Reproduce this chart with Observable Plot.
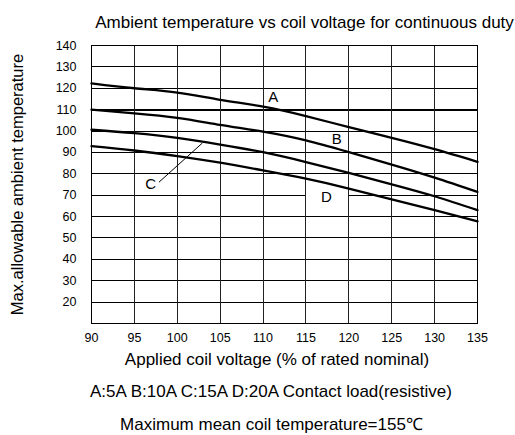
<!DOCTYPE html>
<html>
<head>
<meta charset="utf-8">
<script src="https://cdn.jsdelivr.net/npm/d3@7"></script>
<script src="https://cdn.jsdelivr.net/npm/@observablehq/plot@0.6"></script>
<style>
  html, body { margin: 0; padding: 0; background: #fff; }
  #chart svg { display: block; font-family: "Liberation Sans", Arial, sans-serif; }
</style>
</head>
<body>
<div id="chart"></div>
<script>
// Data
const voltage = [90, 95, 100, 105, 110, 115, 120, 125, 130, 135];
const curveA = [122.3, 120.0, 118.0, 114.6, 111.4, 107.0, 101.8, 96.8, 91.5, 85.6];
const curveB = [110.0, 108.3, 106.2, 102.9, 99.7, 95.6, 90.1, 84.3, 78.2, 71.5];
const curveC = [100.6, 99.0, 96.8, 93.7, 90.1, 85.5, 80.4, 75.1, 69.5, 63.0];
const curveD = [92.9, 90.9, 88.3, 85.2, 81.6, 77.7, 73.1, 68.0, 63.0, 57.8];
const seriesNames = ["A", "B", "C", "D"];

const xTicks = [90, 95, 100, 105, 110, 115, 120, 125, 130, 135];
const yTicks = [20, 30, 40, 50, 60, 70, 80, 90, 100, 110, 120, 130, 140];
const yGrid = [20, 30, 40, 50, 60, 70, 80, 90, 100, 120, 130];
const yBold = [110];
const xGrid = [95, 100, 105, 110, 115, 120, 125, 130];

// Curve labels and leader line
const labelX = [111.2, 118.6, 96.9, 117.4];
const labelY = [115.6, 96.0, 75.1, 69.0];
const leaderC = [{x: 97.9, y: 76.2}, {x: 102.9, y: 94.3}];
const gapD = [{x1: 115, x2: 120, y1: 67.5, y2: 72.5}];

const title = "Ambient temperature vs coil voltage for continuous duty";
const yLabel = "Max.allowable ambient temperature";
const xLabel = "Applied coil voltage (% of rated nominal)";
const caption1 = "A:5A B:10A C:15A D:20A Contact load(resistive)";
const caption2 = "Maximum mean coil temperature=155\u2103";

const curves = [curveA, curveB, curveC, curveD];
const lineData = curves.flatMap((vals, i) =>
  vals.map((v, j) => ({series: seriesNames[i], x: voltage[j], y: v})));
const labels = seriesNames.map((s, i) => ({s, x: labelX[i], y: labelY[i]}));

const chart = Plot.plot({
  width: 515,
  height: 435,
  marginLeft: 91,
  marginRight: 38,
  marginTop: 45,
  marginBottom: 112,
  style: {fontFamily: "'Liberation Sans', Arial, sans-serif", color: "#000", background: "#fff"},
  x: {domain: [90, 135], ticks: xTicks, tickSize: 0, tickPadding: 10, label: null},
  y: {domain: [10, 140], ticks: yTicks, tickSize: 0, tickPadding: 15, label: null},
  marks: [
    Plot.ruleY(yGrid, {stroke: "#000", strokeWidth: 1, shapeRendering: "crispEdges"}),
    Plot.ruleY(yBold, {stroke: "#000", strokeWidth: 2, shapeRendering: "crispEdges"}),
    Plot.rect(gapD, {x1: "x1", x2: "x2", y1: "y1", y2: "y2", fill: "#fff"}),
    Plot.ruleX(xGrid, {stroke: "#222", strokeWidth: 1, shapeRendering: "crispEdges"}),
    Plot.frame({stroke: "#000", strokeWidth: 1, shapeRendering: "crispEdges"}),
    Plot.axisX({ticks: xTicks, tickSize: 0, tickPadding: 10, fontSize: 12.5, label: null}),
    Plot.axisY({ticks: yTicks, tickSize: 0, tickPadding: 15, fontSize: 12.5, label: null}),
    Plot.line(lineData, {x: "x", y: "y", z: "series", stroke: "#000", strokeWidth: 2.3, curve: "natural"}),
    Plot.line(leaderC, {x: "x", y: "y", stroke: "#000", strokeWidth: 1}),
    Plot.text(labels, {x: "x", y: "y", text: "s", fontSize: 15, fill: "#000"}),
    Plot.text([title], {frameAnchor: "top", dx: 20, dy: -30, fontSize: 17, fill: "#000", text: d => d}),
    Plot.text([yLabel], {frameAnchor: "left", textAnchor: "middle", dx: -74, rotate: -90, fontSize: 16.5, fill: "#000", text: d => d}),
    Plot.text([xLabel], {frameAnchor: "bottom", dx: -7.5, dy: 41, fontSize: 17, fill: "#000", text: d => d}),
    Plot.text([caption1], {frameAnchor: "bottom", dx: -13.5, dy: 73, fontSize: 17, fill: "#000", text: d => d}),
    Plot.text([caption2], {frameAnchor: "bottom", dx: -13, dy: 106, fontSize: 17, fill: "#000", text: d => d})
  ]
});
document.getElementById("chart").appendChild(chart);
</script>
</body>
</html>
